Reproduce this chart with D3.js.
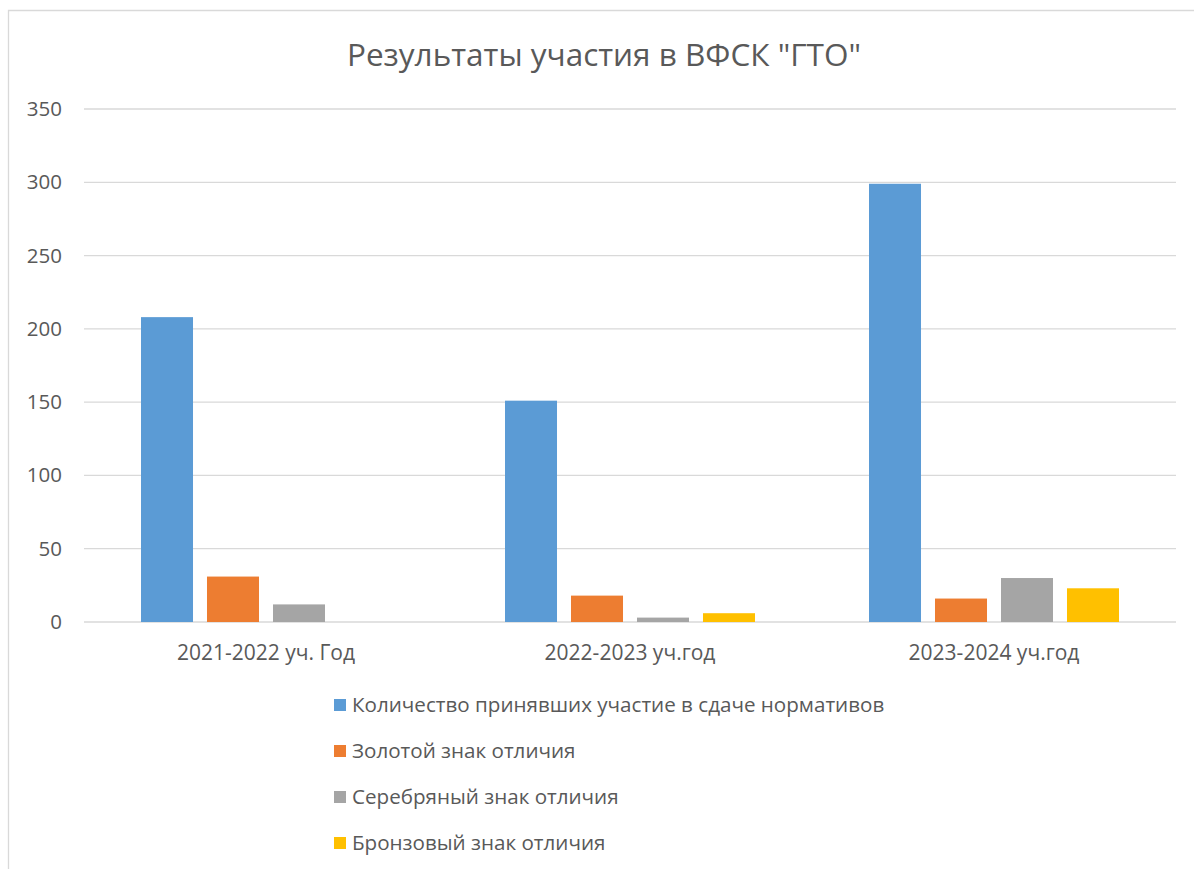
<!DOCTYPE html>
<html>
<head>
<meta charset="utf-8">
<script src="https://cdn.jsdelivr.net/npm/d3@7"></script>
<style>
  body { margin: 0; background: #fff; }
  svg { display: block; }
  text { font-family: "Open Sans", sans-serif; fill: #595959; }
</style>
</head>
<body>
<svg width="1194" height="869"></svg>
<script>
var years = ["2021-2022 уч. Год", "2022-2023 уч.год", "2023-2024 уч.год"];
var seriesNames = [
  "Количество принявших участие в сдаче нормативов",
  "Золотой знак отличия",
  "Серебряный знак отличия",
  "Бронзовый знак отличия"
];
var participants = [208, 151, 299];
var gold = [31, 18, 16];
var silver = [12, 3, 30];
var bronze = [0, 6, 23];
var colors = ["#5b9bd5", "#ed7d31", "#a5a5a5", "#ffc000"];
var yTicks = [0, 50, 100, 150, 200, 250, 300, 350];

var svg = d3.select("svg"),
  width = +svg.attr("width"),
  height = +svg.attr("height");

var margin = {top: 109, right: 18, bottom: 247, left: 84};
var plotW = width - margin.left - margin.right,
  plotH = height - margin.top - margin.bottom;

// chart frame
svg.append("path")
  .attr("d", "M8.5," + height + "V10.5H" + width)
  .attr("fill", "none")
  .attr("stroke", "#d9d9d9")
  .attr("stroke-width", 1.3);

svg.append("text")
  .attr("x", 604)
  .attr("y", 66)
  .attr("text-anchor", "middle")
  .style("font-size", "31.5px")
  .text('Результаты участия в ВФСК "ГТО"');

var g = svg.append("g")
  .attr("transform", "translate(" + margin.left + "," + margin.top + ")");

var y = d3.scaleLinear().domain([0, 350]).range([plotH, 0]);
var x0 = d3.scaleBand().domain(years).range([0, plotW]);
var x1 = d3.scaleBand().domain(d3.range(4))
  .range([0, 250]).paddingInner(0.212);

// gridlines
g.append("g")
  .selectAll("line")
  .data(yTicks)
  .enter().append("line")
  .attr("x1", 0)
  .attr("x2", plotW)
  .attr("y1", function(d) { return y(d); })
  .attr("y2", function(d) { return y(d); })
  .attr("stroke", "#d9d9d9")
  .attr("stroke-width", 1.3);

var yAxis = g.append("g")
  .call(d3.axisLeft(y).tickValues(yTicks).tickSize(0).tickPadding(22));
yAxis.select(".domain").remove();
yAxis.selectAll("text")
  .style("font-size", "20.5px")
  .style("font-family", "'Open Sans', sans-serif")
  .attr("fill", "#595959");

var data = [participants, gold, silver, bronze];
var rows = years.map(function(yr, i) {
  return {year: yr, vals: data.map(function(s, k) { return {k: k, v: s[i]}; })};
});

var groups = g.selectAll(".grp")
  .data(rows)
  .enter().append("g")
  .attr("class", "grp")
  .attr("transform", function(d) {
    return "translate(" + (x0(d.year) + x0.bandwidth() / 2 - 125) + ",0)";
  });

groups.selectAll("rect")
  .data(function(d) { return d.vals.filter(function(e) { return e.v > 0; }); })
  .enter().append("rect")
  .attr("x", function(d) { return x1(d.k); })
  .attr("width", x1.bandwidth())
  .attr("y", function(d) { return y(d.v); })
  .attr("height", function(d) { return plotH - y(d.v); })
  .attr("fill", function(d) { return colors[d.k]; });

var xAxis = g.append("g")
  .attr("transform", "translate(0," + plotH + ")")
  .call(d3.axisBottom(x0).tickSize(0).tickPadding(23));
xAxis.select(".domain").remove();
xAxis.selectAll("text")
  .style("font-size", "21px")
  .style("font-family", "'Open Sans', sans-serif")
  .attr("fill", "#595959");

// legend
var legend = svg.append("g")
  .selectAll("g")
  .data(seriesNames)
  .enter().append("g")
  .attr("transform", function(d, i) { return "translate(334," + (705 + i * 46) + ")"; });

legend.append("rect")
  .attr("x", 0)
  .attr("y", -6)
  .attr("width", 12)
  .attr("height", 12)
  .attr("fill", function(d, i) { return colors[i]; });

legend.append("text")
  .attr("x", 18)
  .attr("dy", "0.35em")
  .style("font-size", "20.6px")
  .text(function(d) { return d; });
</script>
</body>
</html>
